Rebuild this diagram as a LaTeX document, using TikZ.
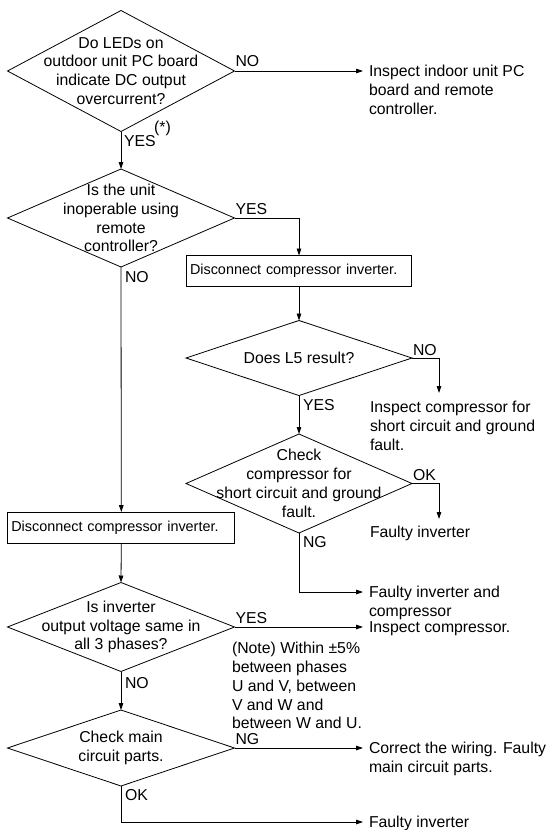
\documentclass[tikz,border=0pt]{standalone}
\usepackage{fontspec}
\setmainfont{Liberation Sans}
\usetikzlibrary{shapes.geometric,arrows.meta,calc}

\begin{document}
\begin{tikzpicture}[x=1pt,y=-1pt,
  every node/.style={inner sep=0pt,outer sep=0pt,font=\fontsize{15.8}{18.8}\selectfont},
  decision/.style={draw,diamond,line width=0.8pt},
  actbox/.style={draw,rectangle,line width=0.8pt,font=\fontsize{14.4}{17}\selectfont,
                 text width=#1,align=left,inner xsep=3.5pt,minimum height=31pt},
  result/.style={anchor=north west,align=left},
  flow/.style={line width=0.8pt},
  arr/.style={flow,-{Triangle[length=7pt,width=4.6pt]}}
]
\useasboundingbox (0,0) rectangle (548,830);

% decisions and actions on the main (left) trunk
\node[decision,minimum width=227pt,minimum height=121pt] (d1) at (121,71) {};
\node[align=center] (d1t) at (d1.center) {Do LEDs on\\outdoor unit PC board\\indicate DC output\\overcurrent?};

\node[decision,minimum width=227pt,minimum height=98pt] (d2) at (121,218) {};
\node[align=center] (d2t) at (d2.center) {Is the unit\\inoperable using\\remote\\controller?};

\node[actbox=220pt] (b2) at (121.3,527.5) {\mbox{Disconnect compressor inverter.}};

\node[decision,minimum width=227pt,minimum height=89pt] (d5) at (121,627) {};
\node[align=center] (d5t) at (d5.center) {Is inverter\\output voltage same in\\all 3 phases?};

\node[decision,minimum width=227pt,minimum height=76pt] (d6) at (121,748) {};
\node[align=center] (d6t) at (d6.center) {Check main\\circuit parts.};

% right-hand branch
\node[actbox=218pt] (b1) at (299,271) {\mbox{Disconnect compressor inverter.}};

\node[decision,minimum width=226pt,minimum height=75pt] (d3) at (299,358) {};
\node[align=center] (d3t) at (d3.center) {Does L5 result?};

\node[decision,minimum width=226pt,minimum height=99pt] (d4) at (299,483.5) {};
\node[align=center] (d4t) at (d4.center) {Check\\compressor for\\short circuit and ground\\fault.};

% arrow end points in front of the outcome texts
\coordinate (e1) at (363,71);
\coordinate (e3) at (439,393);
\coordinate (e4) at (439,519);
\coordinate (e5) at (363,592);
\coordinate (e6) at (363,627);
\coordinate (e7) at (363,748);
\coordinate (e8) at (363,822);

% outcome texts
\node[result] (r1) at ($(e1)+(6,-5.7)$) {Inspect indoor unit PC\\board and remote\\controller.};
\node[result] (r3) at ($(e3)+(-69,8.3)$) {Inspect compressor for\\short circuit and ground\\fault.};
\node[result] (r4) at ($(e4)+(-69,7.3)$) {Faulty inverter};
\node[result] (r5) at ($(e5)+(6,-5.7)$) {Faulty inverter and\\compressor};
\node[result] (r6) at ($(e6)+(6,-5.7)$) {Inspect compressor.};
\node[result] (r7) at ($(e7)+(6,-5.7)$) {Correct the wiring. Faulty\\main circuit parts.};
\node[result] (r8) at ($(e8)+(6,-5.7)$) {Faulty inverter};
\node[result] (note) at ($(d5.east)+(-2.5,15.3)$) {(Note) Within ±5\%\\between phases\\U and V, between\\V and W and\\between W and U.};

% connectors
\draw[arr] (d1.east) -- (e1);
\draw[arr] (d1.south) -- (d2.north);
\draw[arr] (d2.east) -| (b1.north);
\draw[arr] (d2.south) -- (b2.north);
\draw[arr] (b1.south) -- (d3.north);
\draw[arr] (d3.east) -| (e3);
\draw[arr] (d3.south) -- (d4.north);
\draw[arr] (d4.east) -| (e4);
\draw[arr] (d4.south) |- (e5);
\draw[arr] (b2.south) -- (d5.north);
\draw[arr] (d5.east) -- (e6);
\draw[arr] (d5.south) -- (d6.north);
\draw[arr] (d6.east) -- (e7);
\draw[arr] (d6.south) |- (e8);

% branch labels
\node[anchor=south west] (l1n) at ($(d1.east)+(1,-4.3)$) {NO};
\node[anchor=north west] (l1y) at ($(d1.south)+(3,3.5)$) {YES};
\node (l1s) at (162.5,128) {(*)};
\node[anchor=south west] (l2y) at ($(d2.east)+(1,-3.5)$) {YES};
\node[anchor=north west] (l2n) at ($(d2.south)+(4,4.3)$) {NO};
\node[anchor=south west] (l3n) at ($(d3.east)+(1,-2.8)$) {NO};
\node[anchor=north west] (l3y) at ($(d3.south)+(4,4.3)$) {YES};
\node[anchor=south west] (l4o) at ($(d4.east)+(1,-3.3)$) {OK};
\node[anchor=north west] (l4n) at ($(d4.south)+(4,3.3)$) {NG};
\node[anchor=south west] (l5y) at ($(d5.east)+(1,-3.3)$) {YES};
\node[anchor=north west] (l5n) at ($(d5.south)+(4,5.5)$) {NO};
\node[anchor=south west] (l6n) at ($(d6.east)+(1,-3.3)$) {NG};
\node[anchor=north west] (l6o) at ($(d6.south)+(4,3.3)$) {OK};
\end{tikzpicture}
\end{document}
